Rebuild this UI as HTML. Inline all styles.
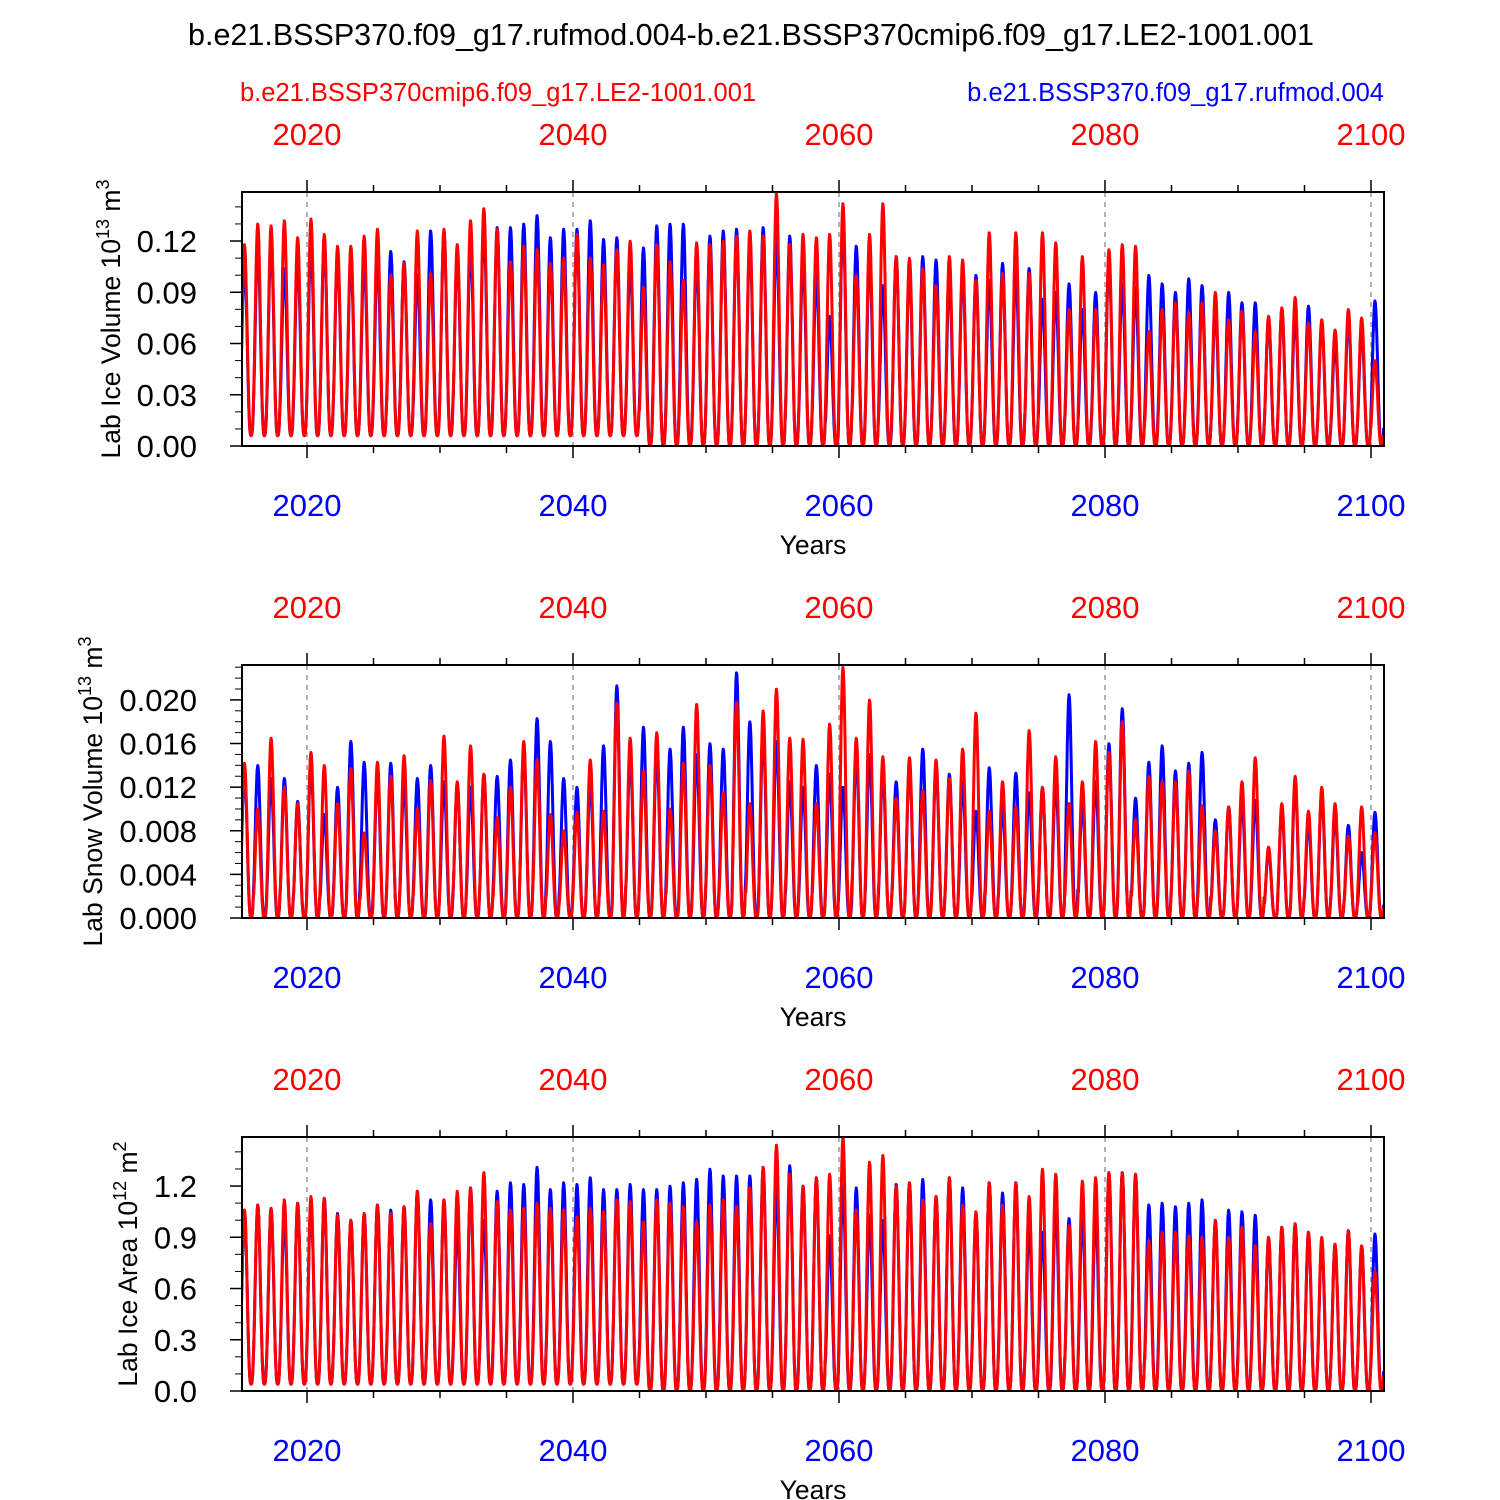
<!DOCTYPE html>
<html><head><meta charset="utf-8">
<style>
html,body{margin:0;padding:0;background:#fff;}
svg{display:block;font-family:"Liberation Sans",Arial,sans-serif;}
</style></head>
<body>
<svg id="chart" width="1500" height="1500" viewBox="0 0 1500 1500" xmlns="http://www.w3.org/2000/svg">
<text x="751" y="45" font-size="30.5" text-anchor="middle">b.e21.BSSP370.f09_g17.rufmod.004-b.e21.BSSP370cmip6.f09_g17.LE2-1001.001</text>
<text x="240" y="101" font-size="25.5" fill="#ff0000">b.e21.BSSP370cmip6.f09_g17.LE2-1001.001</text>
<text x="1384" y="101" font-size="25.5" fill="#0000ff" text-anchor="end">b.e21.BSSP370.f09_g17.rufmod.004</text>
</svg>
<script>
// ---- data: annual peak values (years 2015..2100) ----
const years = [];
for (let y = 2015; y <= 2100; y++) years.push(y);
const volRed = [0.118,0.13,0.129,0.132,0.122,0.133,0.124,0.117,0.117,0.123,0.127,0.10,0.107,0.126,0.101,0.127,0.118,0.132,0.139,0.127,0.108,0.117,0.115,0.107,0.11,0.124,0.11,0.106,0.115,0.12,0.093,0.118,0.108,0.097,0.119,0.118,0.12,0.123,0.126,0.123,0.148,0.118,0.124,0.122,0.124,0.142,0.10,0.124,0.142,0.111,0.11,0.104,0.094,0.111,0.109,0.097,0.125,0.101,0.125,0.101,0.125,0.119,0.08,0.111,0.08,0.115,0.118,0.117,0.067,0.08,0.084,0.078,0.084,0.09,0.074,0.079,0.067,0.076,0.081,0.087,0.072,0.074,0.068,0.08,0.075,0.05];
const volBlue = [0.108,0.117,0.12,0.104,0.11,0.118,0.12,0.113,0.11,0.11,0.11,0.114,0.108,0.10,0.126,0.126,0.112,0.118,0.13,0.128,0.128,0.13,0.135,0.122,0.127,0.127,0.132,0.121,0.122,0.108,0.116,0.129,0.13,0.13,0.11,0.123,0.126,0.127,0.121,0.128,0.122,0.123,0.11,0.10,0.076,0.132,0.117,0.111,0.094,0.111,0.104,0.111,0.109,0.098,0.103,0.10,0.097,0.107,0.102,0.104,0.086,0.09,0.095,0.08,0.09,0.11,0.095,0.093,0.10,0.095,0.09,0.098,0.094,0.08,0.09,0.084,0.084,0.075,0.08,0.077,0.082,0.072,0.06,0.075,0.068,0.085];
const snowRed = [0.0142,0.010,0.0165,0.012,0.0105,0.0152,0.0140,0.0105,0.0137,0.0078,0.0143,0.013,0.0149,0.010,0.0126,0.0167,0.0125,0.0158,0.0132,0.0092,0.0120,0.0162,0.0145,0.0095,0.008,0.0097,0.0145,0.0098,0.0197,0.0165,0.0135,0.0170,0.010,0.0142,0.0196,0.0140,0.0115,0.0198,0.0105,0.019,0.0210,0.0165,0.0164,0.0105,0.0178,0.0230,0.0165,0.0200,0.0148,0.0110,0.0147,0.0117,0.0145,0.0128,0.0155,0.0188,0.0098,0.0125,0.0102,0.0172,0.012,0.0148,0.0105,0.0125,0.0162,0.0152,0.0180,0.0090,0.0130,0.0125,0.0125,0.0135,0.0103,0.0080,0.0102,0.0125,0.0147,0.0065,0.0105,0.0130,0.0098,0.0120,0.0105,0.0075,0.0102,0.0078];
const snowBlue = [0.0136,0.014,0.0128,0.0128,0.0107,0.0142,0.0095,0.012,0.0162,0.0143,0.0130,0.0142,0.0125,0.0128,0.0140,0.0125,0.0122,0.0120,0.0132,0.0130,0.0145,0.0155,0.0183,0.0162,0.0128,0.0120,0.0125,0.0158,0.0213,0.0150,0.0175,0.0152,0.0155,0.0175,0.0150,0.0160,0.0155,0.0225,0.0180,0.0170,0.0162,0.0125,0.0120,0.0140,0.0132,0.0120,0.0150,0.0150,0.0135,0.0125,0.0140,0.0155,0.0140,0.0132,0.0125,0.0098,0.0138,0.0102,0.0133,0.0115,0.0120,0.0125,0.0205,0.0105,0.0125,0.0160,0.0192,0.0110,0.0143,0.0158,0.0135,0.0142,0.0152,0.0090,0.0102,0.0108,0.0108,0.0062,0.0100,0.0122,0.0088,0.0113,0.0095,0.0085,0.0060,0.0097];
const areaRed = [1.06,1.09,1.07,1.12,1.10,1.14,1.13,1.03,1.00,1.04,1.09,1.04,1.08,1.17,0.98,1.12,1.17,1.19,1.28,1.11,1.06,1.07,1.10,1.07,1.06,1.02,1.07,1.05,1.12,1.11,0.99,1.12,1.10,1.08,0.99,1.09,1.12,1.08,1.19,1.31,1.44,1.27,1.20,1.25,1.27,1.49,1.06,1.34,1.38,1.20,1.22,1.12,1.14,1.25,1.09,1.05,1.22,1.09,1.22,1.14,1.30,1.27,0.97,1.23,1.25,1.28,1.28,1.27,0.88,0.93,0.93,0.91,0.90,1.00,0.90,0.96,0.85,0.90,0.96,0.98,0.93,0.90,0.86,0.94,0.85,0.70];
const areaBlue = [1.06,1.09,1.07,1.03,1.10,1.11,1.13,1.04,1.00,1.04,1.09,1.06,1.08,1.17,1.12,1.12,0.97,1.19,1.00,1.17,1.22,1.21,1.31,1.18,1.22,1.21,1.25,1.18,1.18,1.21,1.18,1.18,1.20,1.22,1.24,1.30,1.26,1.26,1.26,1.31,1.20,1.32,1.20,1.25,0.91,1.20,1.19,1.03,1.00,1.21,1.22,1.24,1.14,1.25,1.19,1.04,1.22,1.16,1.22,0.98,0.93,1.09,1.01,1.04,1.04,1.28,1.28,1.27,1.09,1.10,1.08,1.10,1.12,1.00,1.06,1.05,1.03,0.90,0.96,0.98,0.93,0.87,0.86,0.94,0.85,0.92];
// trough levels (early period / late period)
const volTrough = [0.006,0.0];
const snowTrough = [0.0,0.0];
const areaTrough = [0.04,0.0];
const xTicks = [2020,2040,2060,2080,2100];
const volTicks = ["0.00","0.03","0.06","0.09","0.12"];
const snowTicks = ["0.000","0.004","0.008","0.012","0.016","0.020"];
const areaTicks = ["0.0","0.3","0.6","0.9","1.2"];

const NS = "http://www.w3.org/2000/svg";
const svg = document.getElementById('chart');
function mk(tag, attrs, parent) {
  const e = document.createElementNS(NS, tag);
  for (const k in attrs) e.setAttribute(k, attrs[k]);
  (parent || svg).appendChild(e);
  return e;
}
const X0 = 242, X1 = 1384;
const xScale = t => 307 + (t - 2020) * (1371 - 307) / 80;

function panel(o) {
  const g = mk('g', {});
  
  
  const yScale = v => o.bottom - v / o.yMax * (o.bottom - o.top);
  const cp = mk('clipPath', { id: 'clip-' + o.name }, g);
  mk('rect', { x: X0, y: o.top, width: X1 - X0, height: o.bottom - o.top }, cp);
  xTicks.forEach(yr => {
    const gl = mk('line', { x1: xScale(yr), x2: xScale(yr), y1: o.top, y2: o.bottom, stroke: '#999', 'stroke-width': 1.5, 'stroke-dasharray': '5,5' }, g);
    
    
  });
  const series = [[o.blue, '#0000ff', 'blue'], [o.red, '#ff0000', 'red']];
  series.forEach(([arr, col, nm]) => {
    let d = '';
    for (let i = 0; i < arr.length; i++) {
      const trough = years[i] < 2045 ? o.trough[0] : o.trough[1];
      for (let m = 0; m < 24; m++) {
        const t = years[i] + m / 24;
        const ph = (t - years[i] - 0.3) * 2 * Math.PI;
        const f = Math.pow((1 + Math.cos(ph)) / 2, 1.4);
        const v = trough + (arr[i] - trough) * f;
        d += (d ? 'L' : 'M') + xScale(t).toFixed(1) + ',' + yScale(v).toFixed(1);
      }
    }
    const p = mk('path', { d: d, fill: 'none', stroke: col, 'stroke-width': 3, 'stroke-linejoin': 'round', 'clip-path': 'url(#clip-' + o.name + ')' }, g);
    
    
  });
  const fr = mk('rect', { x: X0, y: o.top, width: X1 - X0, height: o.bottom - o.top, fill: 'none', stroke: '#000', 'stroke-width': 2 }, g);
  
  
  for (let yr = 2020; yr <= 2100; yr += 5) {
    const len = yr % 20 === 0 ? 12 : 7;
    mk('line', { x1: xScale(yr), x2: xScale(yr), y1: o.top, y2: o.top - len, stroke: '#000', 'stroke-width': 1.5 }, g);
    mk('line', { x1: xScale(yr), x2: xScale(yr), y1: o.bottom, y2: o.bottom + len, stroke: '#000', 'stroke-width': 1.5 }, g);
  }
  xTicks.forEach(yr => {
    const tt = mk('text', { x: xScale(yr), y: o.top - 47, 'font-size': 31, fill: '#ff0000', 'text-anchor': 'middle' }, g);
    tt.textContent = yr;
    
    
    const bt = mk('text', { x: xScale(yr), y: o.bottom + 70, 'font-size': 31, fill: '#0000ff', 'text-anchor': 'middle' }, g);
    bt.textContent = yr;
    
    
  });
  const xt = mk('text', { x: 813, y: o.bottom + 108, 'font-size': 26.5, 'text-anchor': 'middle' }, g);
  xt.textContent = 'Years';
  
  
  o.ticks.forEach((lab, i) => {
    const v = i * o.step;
    const y = yScale(v);
    mk('line', { x1: X0, x2: X0 - 12, y1: y, y2: y, stroke: '#000', 'stroke-width': 1.5 }, g);
    const tl = mk('text', { x: X0 - 45, y: y + 11, 'font-size': 31, 'text-anchor': 'end' }, g);
    tl.textContent = lab;
    
    
  });
  for (let v = 0; v <= o.yMax + 1e-9; v += o.minor) {
    const y = yScale(v);
    mk('line', { x1: X0, x2: X0 - 7, y1: y, y2: y, stroke: '#000', 'stroke-width': 1 }, g);
  }
  const yt = mk('text', { x: 0, y: 0, 'font-size': 26.5, 'text-anchor': 'middle', transform: 'translate(' + o.titleX + ',' + ((o.top + o.bottom) / 2) + ') rotate(-90)' }, g);
  yt.innerHTML = o.title;
  
  
}

panel({ name: 'ice-volume', top: 192, bottom: 446, yMax: 0.1487, step: 0.03, minor: 0.01, ticks: volTicks, red: volRed, blue: volBlue, trough: volTrough, titleX: 120,
  title: 'Lab Ice Volume 10<tspan font-size="18" dy="-11">13</tspan><tspan dy="11"> m</tspan><tspan font-size="18" dy="-11">3</tspan>' });
panel({ name: 'snow-volume', top: 665, bottom: 918, yMax: 0.0232, step: 0.004, minor: 0.001, ticks: snowTicks, red: snowRed, blue: snowBlue, trough: snowTrough, titleX: 102,
  title: 'Lab Snow Volume 10<tspan font-size="18" dy="-11">13</tspan><tspan dy="11"> m</tspan><tspan font-size="18" dy="-11">3</tspan>' });
panel({ name: 'ice-area', top: 1137, bottom: 1391, yMax: 1.487, step: 0.3, minor: 0.1, ticks: areaTicks, red: areaRed, blue: areaBlue, trough: areaTrough, titleX: 137,
  title: 'Lab Ice Area 10<tspan font-size="18" dy="-11">12</tspan><tspan dy="11"> m</tspan><tspan font-size="18" dy="-11">2</tspan>' });
</script>
</body></html>
